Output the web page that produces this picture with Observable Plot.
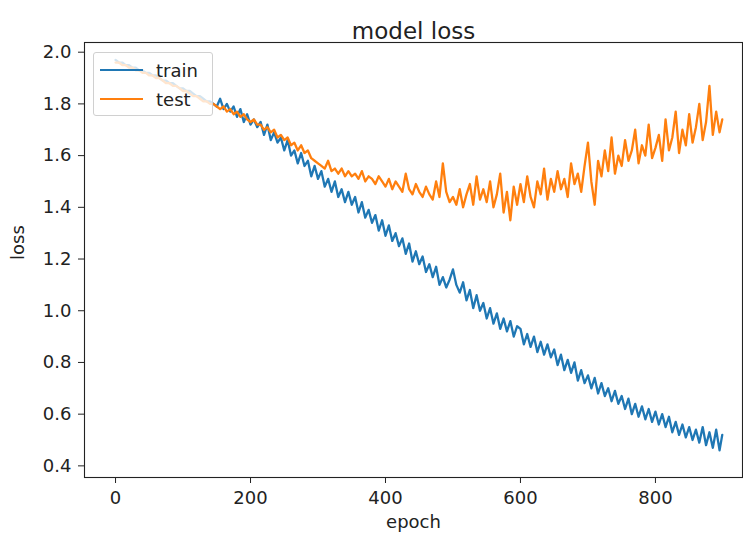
<!DOCTYPE html>
<html>
<head>
<meta charset="utf-8">
<script src="https://cdn.jsdelivr.net/npm/d3@7"></script>
<script src="https://cdn.jsdelivr.net/npm/@observablehq/plot@0.6"></script>
<style>
  body { margin: 0; background: white; }
  #wrap { position: relative; width: 743px; height: 540px; font-family: "DejaVu Sans", sans-serif; }
  #legend { position: absolute; left: 93px; top: 52px; width: 120px; height: 64px;
    background: rgba(255,255,255,0.8); border: 1px solid #d0d0d0; border-radius: 3px; box-sizing: border-box; }
  .item { position: absolute; left: 6px; height: 22px; display: flex; align-items: center; font-size: 18px; color: #222; }
  .sw { width: 43px; height: 2.5px; margin-right: 13px; }
</style>
</head>
<body>
<div id="wrap"></div>
<script>
const seriesNames = ["train", "test"];
const seriesColors = ["#1f77b4", "#ff7f0e"];
const xTicks = [0, 200, 400, 600, 800];
const yTicks = [0.4, 0.6, 0.8, 1.0, 1.2, 1.4, 1.6, 1.8, 2.0];

// loss values every 5 epochs (0..895) plus the last epoch 899
const epochs = d3.range(0, 900, 5).concat([899]);

const trainLoss = [
  1.97,1.96,1.96,1.95,1.95,1.94,1.94,1.93,1.93,1.92,
  1.92,1.91,1.91,1.90,1.89,1.89,1.88,1.88,1.87,1.86,
  1.86,1.85,1.85,1.84,1.83,1.83,1.82,1.81,1.81,1.80,
  1.79,1.82,1.78,1.80,1.77,1.79,1.75,1.78,1.73,1.76,
  1.72,1.74,1.71,1.73,1.68,1.72,1.66,1.69,1.65,1.67,
  1.62,1.66,1.60,1.62,1.57,1.61,1.56,1.58,1.52,1.56,
  1.51,1.54,1.48,1.51,1.46,1.50,1.44,1.47,1.42,1.46,
  1.41,1.44,1.38,1.42,1.36,1.39,1.34,1.37,1.31,1.35,
  1.29,1.33,1.27,1.30,1.25,1.28,1.22,1.26,1.19,1.23,
  1.18,1.21,1.15,1.18,1.13,1.17,1.10,1.13,1.09,1.12,
  1.16,1.10,1.07,1.11,1.04,1.08,1.01,1.06,1.00,1.03,
  0.97,1.01,0.95,0.99,0.93,0.97,0.92,0.96,0.90,0.94,
  0.93,0.87,0.91,0.86,0.90,0.84,0.88,0.83,0.87,0.82,
  0.85,0.79,0.83,0.77,0.81,0.76,0.80,0.73,0.77,0.72,
  0.75,0.70,0.74,0.68,0.72,0.67,0.70,0.65,0.69,0.64,
  0.67,0.62,0.66,0.60,0.64,0.59,0.63,0.58,0.62,0.57,
  0.61,0.56,0.60,0.55,0.59,0.53,0.57,0.52,0.56,0.51,
  0.55,0.50,0.54,0.49,0.55,0.48,0.53,0.47,0.54,0.46,
  0.52
];

const testLoss = [
  1.96,1.96,1.95,1.95,1.94,1.94,1.93,1.93,1.92,1.92,
  1.91,1.91,1.90,1.90,1.89,1.88,1.88,1.87,1.87,1.86,
  1.85,1.85,1.84,1.83,1.83,1.82,1.81,1.81,1.80,1.80,
  1.79,1.78,1.79,1.77,1.78,1.76,1.77,1.75,1.76,1.74,
  1.73,1.74,1.72,1.72,1.70,1.71,1.69,1.70,1.67,1.68,
  1.66,1.67,1.64,1.65,1.62,1.64,1.61,1.62,1.59,1.58,
  1.57,1.56,1.55,1.58,1.54,1.55,1.53,1.55,1.52,1.54,
  1.52,1.53,1.51,1.54,1.50,1.52,1.51,1.49,1.52,1.50,
  1.48,1.51,1.47,1.50,1.48,1.46,1.53,1.47,1.45,1.49,
  1.46,1.44,1.48,1.45,1.43,1.50,1.44,1.57,1.46,1.42,
  1.44,1.41,1.47,1.40,1.45,1.49,1.41,1.52,1.43,1.47,
  1.42,1.50,1.40,1.45,1.53,1.38,1.46,1.35,1.48,1.41,
  1.49,1.42,1.52,1.44,1.40,1.50,1.45,1.55,1.43,1.51,
  1.46,1.54,1.47,1.51,1.44,1.57,1.49,1.53,1.46,1.56,
  1.65,1.50,1.41,1.58,1.52,1.62,1.54,1.67,1.53,1.60,
  1.56,1.66,1.58,1.62,1.70,1.57,1.64,1.60,1.72,1.59,
  1.63,1.68,1.58,1.74,1.62,1.67,1.77,1.61,1.70,1.64,
  1.76,1.65,1.71,1.80,1.66,1.73,1.87,1.68,1.77,1.69,
  1.74
];

const train = epochs.map((e, i) => ({epoch: e, loss: trainLoss[i]}));
const test = epochs.map((e, i) => ({epoch: e, loss: testLoss[i]}));

const chart = Plot.plot({
  width: 743,
  height: 540,
  marginLeft: 84,
  marginTop: 42,
  marginRight: 1,
  marginBottom: 63,
  x: {domain: [-46, 929]},
  y: {domain: [0.355, 2.0375]},
  style: {fontFamily: "DejaVu Sans", fontSize: "18px", color: "#222", background: "white"},
  marks: [
    Plot.axisX({ticks: xTicks, tickSize: 6, tickPadding: 8, label: null, fontSize: 18}),
    Plot.axisY({ticks: yTicks, tickSize: 6, tickPadding: 7, tickFormat: d3.format(".1f"), label: null, fontSize: 18}),
    Plot.line(train, {x: "epoch", y: "loss", stroke: seriesColors[0], strokeWidth: 2.3}),
    Plot.line(test, {x: "epoch", y: "loss", stroke: seriesColors[1], strokeWidth: 2.3}),
    Plot.frame({stroke: "#222", strokeWidth: 1.1}),
    Plot.text(["model loss"], {frameAnchor: "top", dy: -20, fontSize: 23, fill: "#222"}),
    Plot.text(["epoch"], {frameAnchor: "bottom", dy: 50, fontSize: 18, fill: "#222"}),
    Plot.text(["loss"], {frameAnchor: "left", dx: -66, rotate: -90, fontSize: 18, fill: "#222"})
  ]
});

const wrap = document.getElementById("wrap");
wrap.appendChild(chart);
const legend = document.createElement("div");
legend.id = "legend";
seriesNames.forEach((name, i) => {
  const item = document.createElement("div");
  item.className = "item";
  item.style.top = (6 + i * 29) + "px";
  const sw = document.createElement("div");
  sw.className = "sw";
  sw.style.background = seriesColors[i];
  const label = document.createElement("span");
  label.textContent = name;
  item.appendChild(sw);
  item.appendChild(label);
  legend.appendChild(item);
});
wrap.appendChild(legend);
</script>
</body>
</html>
